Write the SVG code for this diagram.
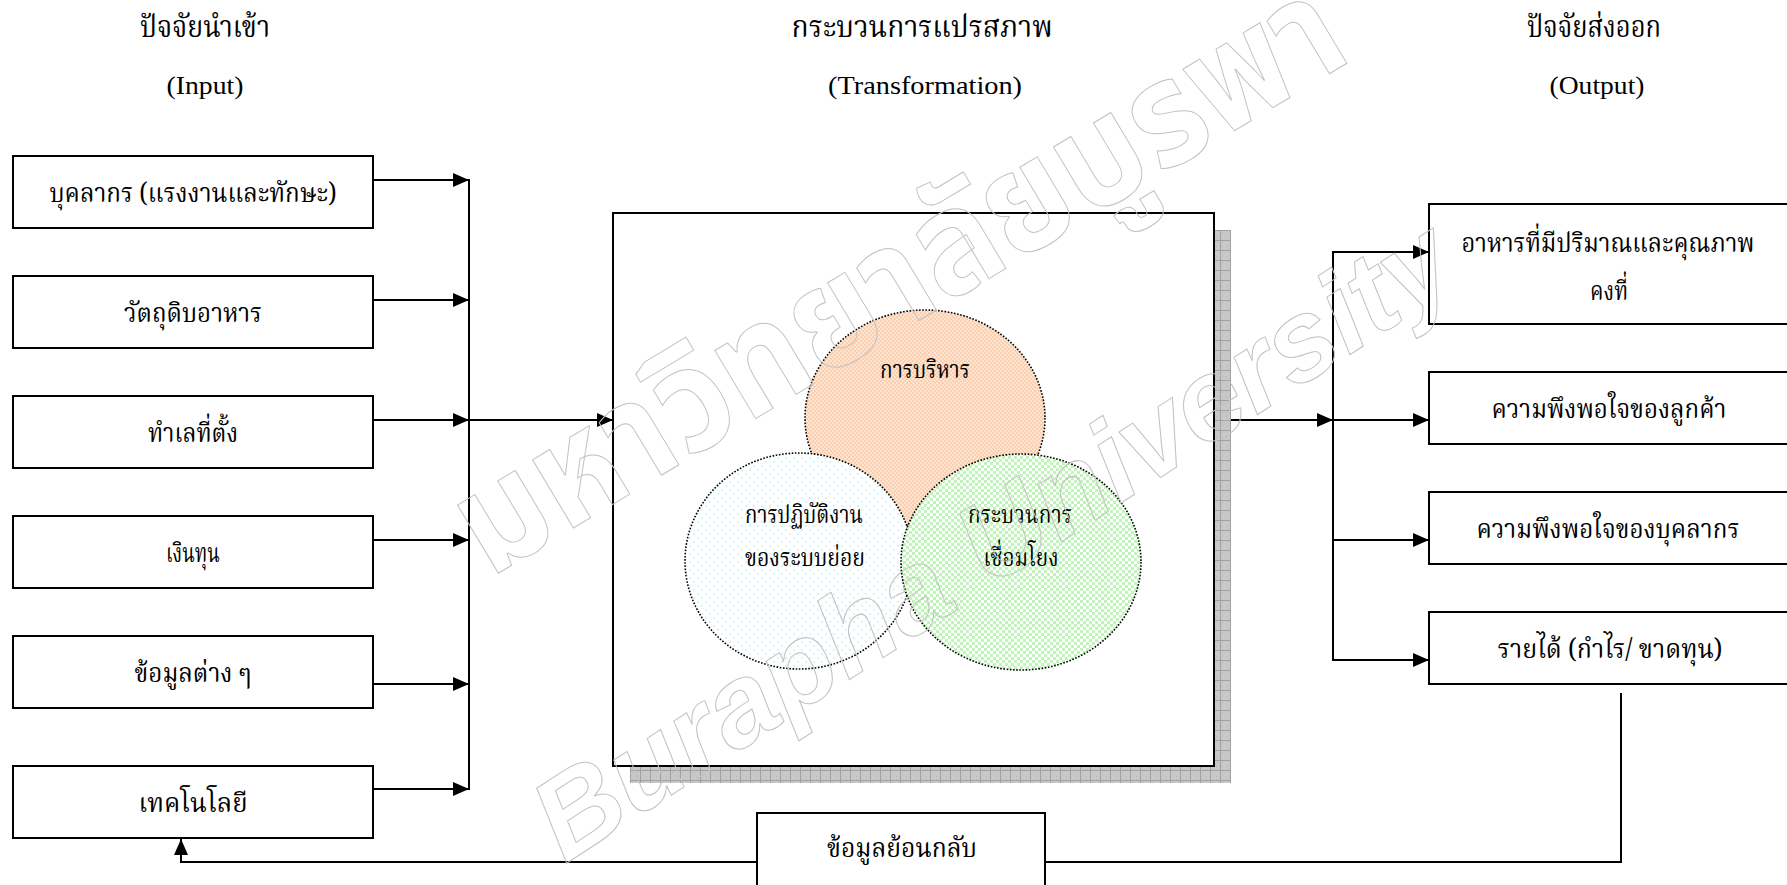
<svg xmlns="http://www.w3.org/2000/svg" width="1787" height="885" viewBox="0 0 1787 885">
  <style>
    .box { fill: #ffffff; stroke: #000000; stroke-width: 2; }
    .wire { fill: none; stroke: #000000; stroke-width: 2; }
    .arrow { marker-end: url(#head); }
    .th { font-family: "Noto Serif Thai", "Noto Sans Thai", "Liberation Serif", serif; fill: #000000; text-anchor: middle; }
    .lat { font-family: "Liberation Serif", serif; fill: #000000; text-anchor: middle; font-size: 26px; }
    .title { font-size: 30px; }
    .label { font-size: 27px; }
    .small { font-size: 25px; }
    .venn { stroke: #000000; stroke-width: 1.6; stroke-dasharray: 1.6 1.6; }
    .mark { fill: none; stroke: #c2c2c2; stroke-width: 1; text-anchor: middle; }
  </style>
  <defs>
    <marker id="head" markerUnits="userSpaceOnUse" markerWidth="16" markerHeight="14" refX="16" refY="7" orient="auto">
      <path d="M0,0 L16,7 L0,14 Z" fill="#000000"/>
    </marker>
    <pattern id="shadowGrid" patternUnits="userSpaceOnUse" width="10" height="10">
      <rect width="10" height="10" fill="#c8c8c8"/>
      <rect x="2" y="2" width="1" height="1" fill="#b6b6b6"/>
      <rect x="6" y="6" width="1" height="1" fill="#b6b6b6"/>
      <rect x="0" y="0" width="10" height="1" fill="#a0a0a0"/>
      <rect x="0" y="0" width="1" height="10" fill="#a0a0a0"/>
    </pattern>
    <pattern id="peach" patternUnits="userSpaceOnUse" width="4" height="4">
      <rect width="4" height="4" fill="#fde4d1"/>
      <rect x="0" y="0" width="2" height="2" fill="#fad0b0"/>
      <rect x="2" y="2" width="2" height="2" fill="#fad0b0"/>
    </pattern>
    <pattern id="mint" patternUnits="userSpaceOnUse" width="6" height="6">
      <rect width="6" height="6" fill="#ffffff"/>
      <rect x="0" y="0" width="3" height="3" fill="#c2f3bc"/>
      <rect x="3" y="3" width="3" height="3" fill="#c2f3bc"/>
    </pattern>
    <pattern id="ice" patternUnits="userSpaceOnUse" width="8" height="8">
      <rect width="8" height="8" fill="#ffffff"/>
      <rect x="1" y="1" width="2" height="2" fill="#d6f5f8"/>
      <rect x="5" y="5" width="2" height="2" fill="#d6f5f8"/>
    </pattern>
  </defs>

  <rect width="1787" height="885" fill="#ffffff"/>

  <!-- column headings -->
  <g id="headings">
    <text class="th title" x="205" y="37" textLength="130" lengthAdjust="spacingAndGlyphs">ปัจจัยนำเข้า</text>
    <text class="lat" x="205" y="94" textLength="77" lengthAdjust="spacingAndGlyphs">(Input)</text>
    <text class="th title" x="922" y="37" textLength="261" lengthAdjust="spacingAndGlyphs">กระบวนการแปรสภาพ</text>
    <text class="lat" x="925" y="94" textLength="194" lengthAdjust="spacingAndGlyphs">(Transformation)</text>
    <text class="th title" x="1594" y="37" textLength="134" lengthAdjust="spacingAndGlyphs">ปัจจัยส่งออก</text>
    <text class="lat" x="1597" y="94" textLength="95" lengthAdjust="spacingAndGlyphs">(Output)</text>
  </g>

  <!-- connectors -->
  <g id="connectors">
    <!-- inputs onto the bus -->
    <path class="wire arrow" d="M373,180 H469"/>
    <path class="wire arrow" d="M373,300 H469"/>
    <path class="wire arrow" d="M373,420 H469"/>
    <path class="wire arrow" d="M373,540 H469"/>
    <path class="wire arrow" d="M373,684 H469"/>
    <path class="wire arrow" d="M373,789 H469"/>
    <path class="wire" d="M469,179 V790"/>
    <path class="wire arrow" d="M469,420 H613"/>
    <!-- transformation to outputs -->
    <path class="wire arrow" d="M1214,420 H1333"/>
    <path class="wire" d="M1333,251 V661"/>
    <path class="wire arrow" d="M1333,252 H1429"/>
    <path class="wire arrow" d="M1333,420 H1429"/>
    <path class="wire arrow" d="M1333,540 H1429"/>
    <path class="wire arrow" d="M1333,660 H1429"/>
    <!-- feedback loop -->
    <path class="wire arrow" d="M1621,693 V862 H181 V839"/>
  </g>

  <!-- inputs -->
  <g id="in-staff">
    <rect class="box" x="13" y="156" width="360" height="72"/>
    <text class="th label" x="193" y="202" textLength="287" lengthAdjust="spacingAndGlyphs">บุคลากร (แรงงานและทักษะ)</text>
  </g>
  <g id="in-material">
    <rect class="box" x="13" y="276" width="360" height="72"/>
    <text class="th label" x="193" y="322" textLength="138" lengthAdjust="spacingAndGlyphs">วัตถุดิบอาหาร</text>
  </g>
  <g id="in-location">
    <rect class="box" x="13" y="396" width="360" height="72"/>
    <text class="th label" x="193" y="442" textLength="90" lengthAdjust="spacingAndGlyphs">ทำเลที่ตั้ง</text>
  </g>
  <g id="in-capital">
    <rect class="box" x="13" y="516" width="360" height="72"/>
    <text class="th label" x="193" y="562" textLength="54" lengthAdjust="spacingAndGlyphs">เงินทุน</text>
  </g>
  <g id="in-info">
    <rect class="box" x="13" y="636" width="360" height="72"/>
    <text class="th label" x="193" y="682" textLength="117" lengthAdjust="spacingAndGlyphs">ข้อมูลต่าง ๆ</text>
  </g>
  <g id="in-tech">
    <rect class="box" x="13" y="766" width="360" height="72"/>
    <text class="th label" x="193" y="812" textLength="109" lengthAdjust="spacingAndGlyphs">เทคโนโลยี</text>
  </g>

  <!-- transformation block -->
  <g id="transformation">
    <rect x="630" y="230" width="601" height="553" fill="url(#shadowGrid)"/>
    <rect class="box" x="613" y="213" width="601" height="553"/>
    <g id="venn-management">
      <ellipse class="venn" cx="925" cy="418" rx="120" ry="108" fill="url(#peach)"/>
      <text class="th small" x="925" y="378" textLength="90" lengthAdjust="spacingAndGlyphs">การบริหาร</text>
    </g>
    <g id="venn-subsystems">
      <ellipse class="venn" cx="799" cy="561" rx="114" ry="108" fill="url(#ice)"/>
      <text class="th small" x="804" y="523" textLength="118" lengthAdjust="spacingAndGlyphs">การปฏิบัติงาน</text>
      <text class="th small" x="805" y="566" textLength="120" lengthAdjust="spacingAndGlyphs">ของระบบย่อย</text>
    </g>
    <g id="venn-linkage">
      <ellipse class="venn" cx="1021" cy="562" rx="120" ry="108" fill="url(#mint)"/>
      <text class="th small" x="1020" y="523" textLength="104" lengthAdjust="spacingAndGlyphs">กระบวนการ</text>
      <text class="th small" x="1021" y="566" textLength="75" lengthAdjust="spacingAndGlyphs">เชื่อมโยง</text>
    </g>
  </g>

  <!-- outputs -->
  <g id="out-food">
    <rect class="box" x="1429" y="204" width="380" height="120"/>
    <text class="th label" x="1608" y="252" textLength="293" lengthAdjust="spacingAndGlyphs">อาหารที่มีปริมาณและคุณภาพ</text>
    <text class="th label" x="1609" y="300" textLength="38" lengthAdjust="spacingAndGlyphs">คงที่</text>
  </g>
  <g id="out-customer">
    <rect class="box" x="1429" y="372" width="380" height="72"/>
    <text class="th label" x="1609" y="418" textLength="235" lengthAdjust="spacingAndGlyphs">ความพึงพอใจของลูกค้า</text>
  </g>
  <g id="out-staff">
    <rect class="box" x="1429" y="492" width="380" height="72"/>
    <text class="th label" x="1608" y="538" textLength="263" lengthAdjust="spacingAndGlyphs">ความพึงพอใจของบุคลากร</text>
  </g>
  <g id="out-income">
    <rect class="box" x="1429" y="612" width="380" height="72"/>
    <text class="th label" x="1610" y="658" textLength="225" lengthAdjust="spacingAndGlyphs">รายได้ (กำไร/ ขาดทุน)</text>
  </g>

  <!-- feedback -->
  <g id="feedback">
    <rect class="box" x="757" y="813" width="288" height="90"/>
    <text class="th label" x="902" y="857" textLength="150" lengthAdjust="spacingAndGlyphs">ข้อมูลย้อนกลับ</text>
  </g>

  <!-- outlined watermark lettering across the page -->
  <g id="watermark">
    <text class="mark" transform="translate(899,280) rotate(-31)" y="45" font-family="Noto Sans Thai, Liberation Sans, sans-serif" font-weight="bold" font-size="145" textLength="1010" lengthAdjust="spacingAndGlyphs">มหาวิทยาลัยบูรพา</text>
    <text class="mark" transform="translate(993,541) rotate(-33)" y="38" font-family="Liberation Sans, sans-serif" font-weight="bold" font-style="italic" font-size="115" textLength="1070" lengthAdjust="spacingAndGlyphs">Burapha University</text>
  </g>
</svg>
